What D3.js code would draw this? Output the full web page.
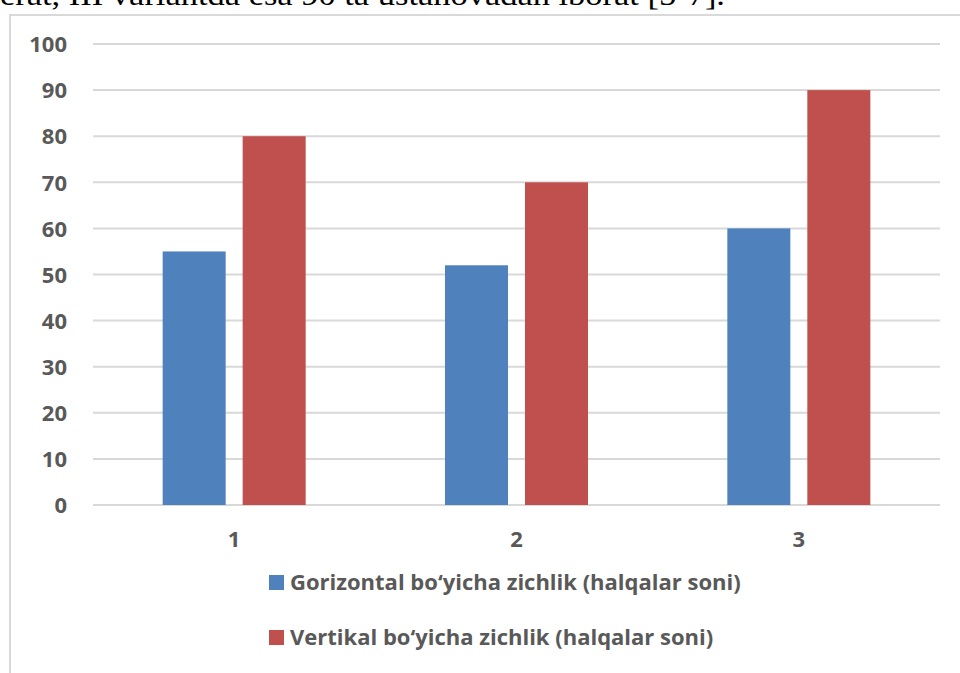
<!DOCTYPE html>
<html><head><meta charset="utf-8">
<script src="https://cdn.jsdelivr.net/npm/d3@7"></script>
<style>html,body{margin:0;padding:0;background:#fff;overflow:hidden}</style>
</head><body>
<svg id="c" width="960" height="673"></svg>
<script>
const categories = ["1", "2", "3"];
const seriesNames = ["Gorizontal bo‘yicha zichlik (halqalar soni)", "Vertikal bo‘yicha zichlik (halqalar soni)"];
const horizontalValues = [55, 52, 60];
const verticalValues = [80, 70, 90];
const yTicks = [0, 10, 20, 30, 40, 50, 60, 70, 80, 90, 100];
const colors = ["#4F81BD", "#C0504D"];

const svg = d3.select("#c");
const textColor = "#595959";
const font = "'Open Sans', sans-serif";
const fs = 22;

// cut-off text above chart
svg.append("text").attr("x", 0).attr("y", 5)
  .attr("font-family", "'Liberation Serif', serif").attr("font-size", 30)
  .attr("textLength", 725).attr("lengthAdjust", "spacingAndGlyphs")
  .attr("fill", "#000").text("erat, III variantda esa 90 ta ustanovadan iborat [5-7].");

// chart border
svg.append("rect").attr("x", 10).attr("y", 15).attr("width", 1000).attr("height", 1000)
  .attr("fill", "none").attr("stroke", "#d9d9d9").attr("stroke-width", 2);

const x0 = 93, x1 = 940, yTop = 44, yBot = 505;
const x = d3.scaleBand().domain(categories).range([x0, x1]);
const y = d3.scaleLinear().domain([0, 100]).range([yBot, yTop]);

// gridlines
svg.append("g").selectAll("line").data(yTicks).join("line")
  .attr("x1", x0).attr("x2", x1).attr("y1", d => y(d)).attr("y2", d => y(d))
  .attr("stroke", "#d9d9d9").attr("stroke-width", 2);

// y axis labels
const yAxis = d3.axisLeft(y).tickValues(yTicks).tickSize(0).tickPadding(0);
const gy = svg.append("g").attr("transform", "translate(67,0)").call(yAxis);
gy.select(".domain").remove();
gy.selectAll("text").attr("font-family", font).attr("font-size", fs).attr("font-weight", "bold")
  .attr("fill", textColor).attr("dy", "0.35em");

// x axis labels
const xAxis = d3.axisBottom(x).tickSize(0).tickPadding(0);
const gx = svg.append("g").attr("transform", "translate(0,539)").call(xAxis);
gx.select(".domain").remove();
gx.selectAll("text").attr("font-family", font).attr("font-size", fs).attr("font-weight", "bold")
  .attr("fill", textColor).attr("dy", "0.35em");

const barW = 63, gap = 17;
const series = [horizontalValues, verticalValues];
series.forEach((vals, si) => {
  svg.append("g").selectAll("rect").data(categories).join("rect")
    .attr("x", (c) => x(c) + x.bandwidth() / 2 - (barW * 2 + gap) / 2 + si * (barW + gap))
    .attr("width", barW)
    .attr("y", (c, i) => y(vals[i]))
    .attr("height", (c, i) => y(0) - y(vals[i]))
    .attr("fill", colors[si]);
});

// legend
const legendY = [582, 637];
seriesNames.forEach((name, i) => {
  svg.append("rect").attr("x", 269).attr("y", legendY[i] - 7).attr("width", 15).attr("height", 15).attr("fill", colors[i]);
  svg.append("text").attr("x", 290).attr("y", legendY[i]).attr("dy", "0.35em")
    .attr("font-family", font).attr("font-size", fs).attr("font-weight", "bold")
    .attr("fill", textColor).text(name);
});
</script>
</body></html>
